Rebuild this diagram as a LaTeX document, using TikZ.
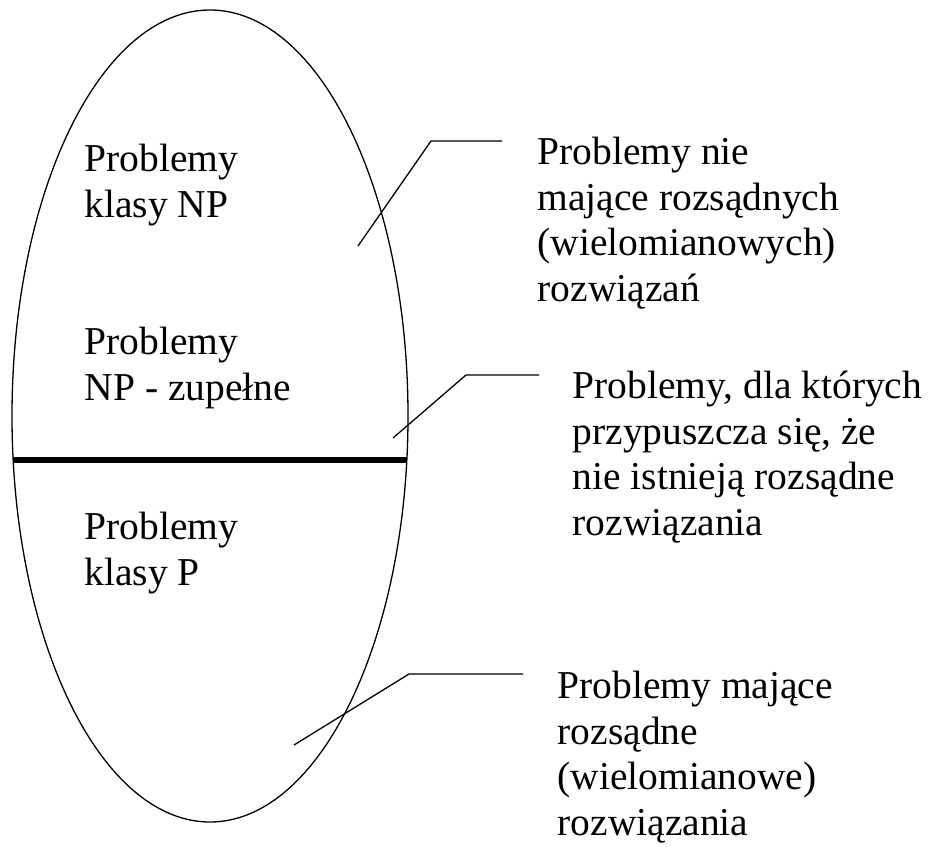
\documentclass[tikz,border=0pt]{standalone}
\usepackage{fontspec}
\setmainfont{Liberation Serif}
\usepackage{tikz}
\usetikzlibrary{shapes.geometric}

\begin{document}
\begin{tikzpicture}[x=1pt,y=-1pt,line width=1.3pt,
	class text/.style={align=left,anchor=base west,inner sep=0pt,font=\fontsize{39.5}{45.5}\selectfont},
	oval/.style={ellipse,draw,inner sep=0pt,minimum width=396pt,minimum height=812pt}]
	\useasboundingbox (0,0) rectangle (937,846);

	\node[oval] (set) at (210,416) {};
	\draw[line width=6pt] (13,460) -- (407,460);

	% texts are placed at the baseline of their last line
	\node[class text] (np) at (84,217) {Problemy\\klasy NP};
	\node[class text] (npc) at (84,400) {Problemy\\NP - zupełne};
	\node[class text] (p) at (84,585) {Problemy\\klasy P};

	\node[class text] (hard) at (537,301) {Problemy nie\\mające rozsądnych\\(wielomianowych)\\rozwiązań};
	\node[class text] (guess) at (572,535) {Problemy, dla których\\przypuszcza się, że\\nie istnieją rozsądne\\rozwiązania};
	\node[class text] (easy) at (557,835) {Problemy mające\\rozsądne\\(wielomianowe)\\rozwiązania};

	% leader lines
	\coordinate (h1) at (358,246);
	\coordinate (k1) at (431,141);
	\coordinate (e1) at (502,141);
	\coordinate (h2) at (393,438);
	\coordinate (k2) at (466,375);
	\coordinate (e2) at (539,375);
	\coordinate (h3) at (294,745);
	\coordinate (k3) at (409,674);
	\coordinate (e3) at (523,674);
	\draw (h1) -- (k1) -- (e1);
	\draw (h2) -- (k2) -- (e2);
	\draw (h3) -- (k3) -- (e3);
\end{tikzpicture}
\end{document}
